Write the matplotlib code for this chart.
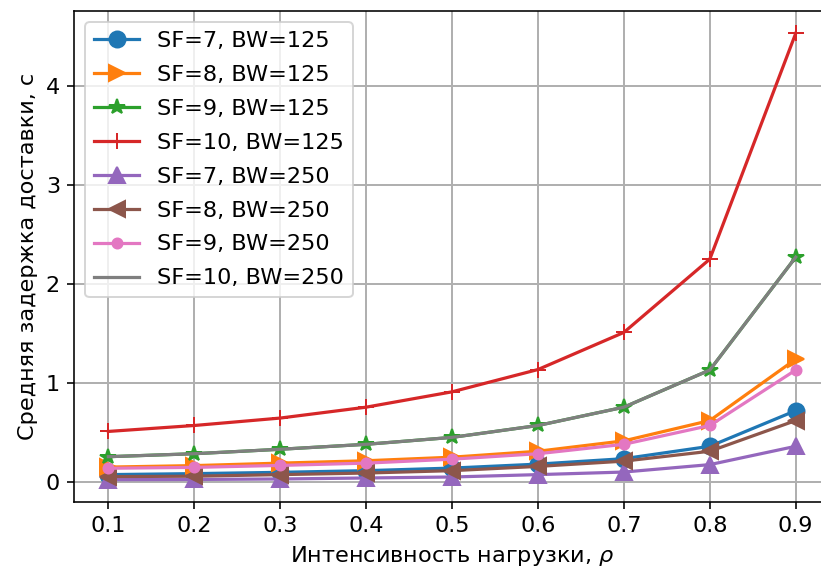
import matplotlib
matplotlib.use("Agg")
import matplotlib.pyplot as plt

plt.rcParams["font.size"] = 11.2

rho = [0.1, 0.2, 0.3, 0.4, 0.5, 0.6, 0.7, 0.8, 0.9]

sf7_bw125 = [0.074, 0.084, 0.097, 0.114, 0.14, 0.18, 0.235, 0.36, 0.72]
sf8_bw125 = [0.15, 0.165, 0.19, 0.214, 0.25, 0.31, 0.415, 0.62, 1.24]
sf9_bw125 = [0.255, 0.285, 0.33, 0.38, 0.45, 0.57, 0.755, 1.13, 2.27]
sf10_bw125 = [0.51, 0.57, 0.645, 0.755, 0.91, 1.135, 1.51, 2.25, 4.53]
sf7_bw250 = [0.023, 0.025, 0.03, 0.04, 0.05, 0.074, 0.1, 0.175, 0.36]
sf8_bw250 = [0.054, 0.058, 0.074, 0.09, 0.114, 0.157, 0.21, 0.31, 0.62]
sf9_bw250 = [0.138, 0.147, 0.167, 0.19, 0.23, 0.285, 0.38, 0.57, 1.13]
sf10_bw250 = [0.255, 0.285, 0.33, 0.38, 0.45, 0.57, 0.755, 1.13, 2.27]

series = [
    ("SF=7, BW=125", sf7_bw125, "o", 8),
    ("SF=8, BW=125", sf8_bw125, ">", 8),
    ("SF=9, BW=125", sf9_bw125, "*", 8),
    ("SF=10, BW=125", sf10_bw125, "+", 8),
    ("SF=7, BW=250", sf7_bw250, "^", 8),
    ("SF=8, BW=250", sf8_bw250, "<", 8),
    ("SF=9, BW=250", sf9_bw250, ".", 10),
    ("SF=10, BW=250", sf10_bw250, None, 6),
]

fig = plt.figure(figsize=(821 / 144, 572 / 144), dpi=144)
ax = fig.add_axes([0.0901, 0.1224, 0.921, 0.8584])
for label, vals, m, ms in series:
    ax.plot(rho, vals, marker=m, markersize=ms, linewidth=1.6, label=label)

ax.set_xticks(rho)
ax.set_yticks([0, 1, 2, 3, 4])
ax.grid(True, linewidth=1.0)
ax.set_xlabel(r"Интенсивность нагрузки, $\rho$")
ax.set_ylabel("Средняя задержка доставки, с")
ax.legend(loc="upper left", labelspacing=0.62)
fig.savefig("out.png", dpi=144)
